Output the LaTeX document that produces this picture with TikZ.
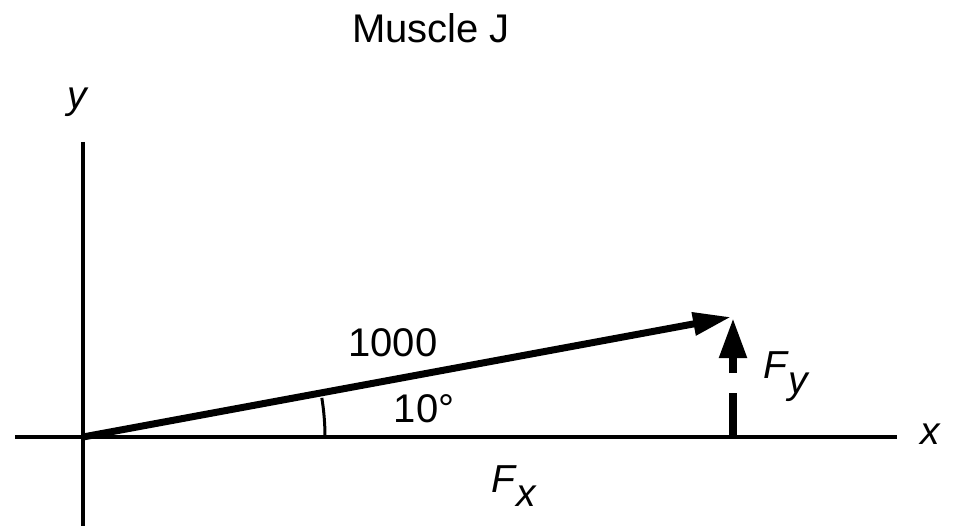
\documentclass[tikz,border=0pt]{standalone}
\usepackage{fontspec}
\setmainfont{Liberation Sans}
\usetikzlibrary{arrows.meta}
\begin{document}
\begin{tikzpicture}[x=1pt,y=-1pt,
  axis/.style={line width=3.5pt},
  lbl/.style={font=\fontsize{39}{41}\selectfont\itshape, inner sep=0pt},
  txt/.style={font=\fontsize{40}{42}\selectfont, inner sep=0pt}]
\useasboundingbox (0,0) rectangle (953,529);
\coordinate (O) at (83,437);
\coordinate (ytop) at (83,142);
\coordinate (ybot) at (83,526);
\coordinate (xl) at (15,437);
\coordinate (xr) at (897,437);
\coordinate (tip) at (731,317);
\coordinate (fyb) at (733,437);
\coordinate (fym) at (733,393);
\coordinate (fyn) at (733,373);
\coordinate (fyt) at (733,318);
\draw[axis] (ytop) -- (ybot);
\draw[axis] (xl) -- (xr);
\draw[line width=7pt, -{Triangle[length=38pt,width=22pt]}] (O) -- (tip);
\draw[line width=3pt] (O) ++(0:242) arc[start angle=0,end angle=-9.3,radius=242];
\draw[line width=8pt] (fyb) -- (fym);
\draw[line width=8pt, -{Triangle[length=40pt,width=26pt]}] (fyn) -- (fyt);
\node[txt] (title) at (431,28) {Muscle J};
\node[lbl] (ylab) at (77,102) {y};
\node[lbl] (xlab) at (930,434) {x};
\node[txt] (val) at (393,343) {1000};
\node[txt] (ang) at (424,409) {10°};
\node[lbl, anchor=base west] (fy) at (763,378) {F\kern1pt\raisebox{-0.75ex}{y}};
\node[lbl, anchor=base west] (fx) at (491,492) {F\kern1pt\raisebox{-0.7ex}{x}};
\end{tikzpicture}
\end{document}
